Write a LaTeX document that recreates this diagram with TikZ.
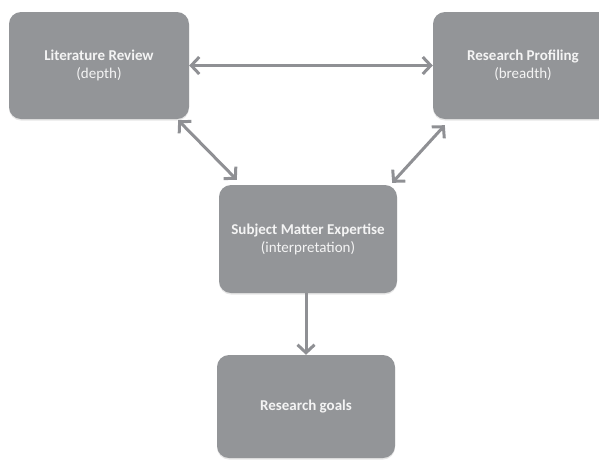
\documentclass[tikz,border=0pt]{standalone}
\usepackage{fontspec}
\setmainfont{Carlito}
\usetikzlibrary{arrows.meta}
\usetikzlibrary{shadows}
\usetikzlibrary{positioning}
\usepackage{xcolor}
\definecolor{boxgray}{HTML}{939598}
\definecolor{linkgray}{HTML}{8F9094}
\definecolor{textwhite}{HTML}{F4F4F4}

\begin{document}
\begin{tikzpicture}[x=1pt,y=-1pt]
      \clip (0,0) rectangle (599,459);
      \tikzstyle{link}=[line width=3pt,draw=linkgray,>={Straight Barb[length=8pt,width=17pt]}]

      \begin{scope}[shape=rectangle,align=center,text=textwhite,font=\fontsize{15}{18}\selectfont]
          \tikzstyle{every node}=[fill=boxgray,rounded corners=12pt,inner sep=0pt,
                                  drop shadow={opacity=0.2,shadow xshift=0pt,shadow yshift=-1.5pt}]
          \node[minimum width=180pt,minimum height=107pt] (lit)   at (99 ,65.5)  {\textbf{Literature Review}\\(depth)};
          \node[minimum width=180pt,minimum height=107pt] (prof)  at (523,65.5)  {\textbf{Research Profiling}\\(breadth)};
          \node[minimum width=178pt,minimum height=108pt] (sme)   at (308,239)   {\textbf{Subject Matter Expertise}\\(interpretation)};
          \node[minimum width=178pt,minimum height=103pt] (goals) at (306,406.5) {\textbf{Research goals}};
      \end{scope}

      \draw[<->,link] (lit) -- (prof);
      \draw[<->,link] ([xshift=-11pt,yshift=-1pt]lit.south east) -- ([xshift=18pt,yshift=5pt]sme.north west);
      \draw[<->,link] ([xshift=12pt,yshift=-6pt]prof.south west) -- ([xshift=-5pt,yshift=2pt]sme.north east);
      \draw[->,link]  ([xshift=-2pt]sme.south) -- (goals.north);
  \end{tikzpicture}
\end{document}
